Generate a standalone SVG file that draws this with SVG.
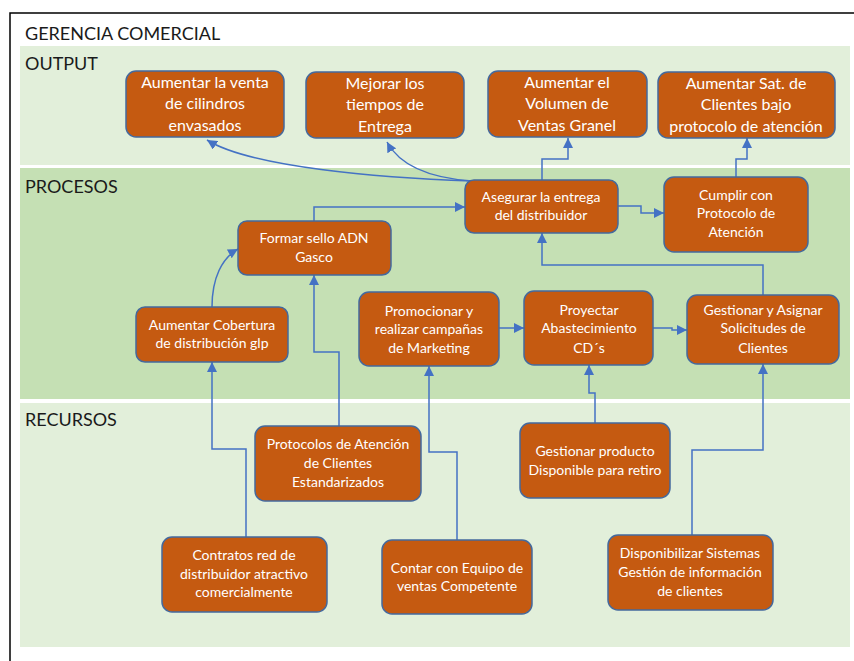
<svg xmlns="http://www.w3.org/2000/svg" width="854" height="661" viewBox="0 0 854 661">
  <defs>
    <marker id="arr" viewBox="0 0 10 10" refX="10" refY="5" markerWidth="10" markerHeight="10" markerUnits="userSpaceOnUse" orient="auto">
      <path d="M0,0 L10,5 L0,10 z" fill="#4472c4"/>
    </marker>
  </defs>
  <style>
    .band-light { fill: #e2efda; }
    .band-dark { fill: #c5e0b4; }
    .hdr { font-family: Lato, "Liberation Sans", sans-serif; font-size: 18px; fill: #1a1a1a; }
    .box { fill: #c55a11; stroke: #44699d; stroke-width: 1.5; }
    .lbl { font-family: Lato, "Liberation Sans", sans-serif; font-size: 14px; fill: #ffffff; text-anchor: middle; }
    .lbl-big { font-family: Lato, "Liberation Sans", sans-serif; font-size: 16px; fill: #ffffff; text-anchor: middle; }
    .con { fill: none; stroke: #4472c4; stroke-width: 1.5; }
    .arrow { marker-end: url(#arr); }
  </style>

  <!-- page background and frame -->
  <rect x="0" y="0" width="854" height="661" fill="#ffffff"/>
  <path d="M10,661 L10,13 L854,13" fill="none" stroke="#000000" stroke-width="1.5"/>

  <!-- swimlane bands -->
  <rect class="band-light" x="20" y="46" width="830" height="119"/>
  <rect class="band-dark" x="20" y="168" width="830" height="231"/>
  <rect class="band-light" x="20" y="403" width="830" height="244"/>

  <text class="hdr" x="25" y="40">GERENCIA COMERCIAL</text>
  <text class="hdr" x="25" y="70">OUTPUT</text>
  <text class="hdr" x="25" y="193">PROCESOS</text>
  <text class="hdr" x="25" y="426">RECURSOS</text>

  <!-- connectors -->
  <g id="connectors">
    <path class="con arrow" d="M246,537 L246,449 L212,449 L212,362"/>
    <path class="con arrow" d="M212,307 C212,278 222,258 238,249"/>
    <path class="con arrow" d="M339,426 L339,352 L314,352 L314,275"/>
    <path class="con arrow" d="M314,221 L314,207 L465,207"/>
    <path class="con arrow" d="M472,181 C380,178 250,167 207,140"/>
    <path class="con arrow" d="M472,181 C430,178 400,166 387,142"/>
    <path class="con arrow" d="M542,180 L542,159 L568,159 L568,138"/>
    <path class="con arrow" d="M736,177 L736,159 L747,159 L747,138"/>
    <path class="con arrow" d="M618,206 L641,206 L641,213 L664,213"/>
    <path class="con arrow" d="M763,295 L763,265 L542,265 L542,233"/>
    <path class="con arrow" d="M499,328 L524,328"/>
    <path class="con arrow" d="M653,328 L672,328 L672,330 L687,330"/>
    <path class="con arrow" d="M457,540 L457,452 L429,452 L429,366"/>
    <path class="con arrow" d="M595,423 L595,393 L589,393 L589,365"/>
    <path class="con arrow" d="M692,535 L692,450 L763,450 L763,364"/>
  </g>

  <!-- OUTPUT nodes -->
  <g id="out-venta-cilindros">
    <rect class="box" x="126" y="71" width="158" height="66" rx="10"/>
    <text class="lbl-big" x="205" y="88">Aumentar la venta</text>
    <text class="lbl-big" x="205" y="109">de cilindros</text>
    <text class="lbl-big" x="205" y="131">envasados</text>
  </g>
  <g id="out-tiempos-entrega">
    <rect class="box" x="306" y="72" width="158" height="66" rx="10"/>
    <text class="lbl-big" x="385" y="89">Mejorar los</text>
    <text class="lbl-big" x="385" y="110">tiempos de</text>
    <text class="lbl-big" x="385" y="132">Entrega</text>
  </g>
  <g id="out-volumen-granel">
    <rect class="box" x="488" y="71" width="159" height="66" rx="10"/>
    <text class="lbl-big" x="567" y="88">Aumentar el</text>
    <text class="lbl-big" x="567" y="109">Volumen de</text>
    <text class="lbl-big" x="567" y="131">Ventas Granel</text>
  </g>
  <g id="out-satisfaccion">
    <rect class="box" x="658" y="72" width="177" height="66" rx="10"/>
    <text class="lbl-big" x="746" y="89">Aumentar Sat. de</text>
    <text class="lbl-big" x="746" y="110">Clientes bajo</text>
    <text class="lbl-big" x="746" y="132">protocolo de atención</text>
  </g>

  <!-- PROCESOS nodes -->
  <g id="proc-asegurar-entrega">
    <rect class="box" x="465" y="180" width="153" height="53" rx="9"/>
    <text class="lbl" x="541" y="202">Asegurar la entrega</text>
    <text class="lbl" x="541" y="220">del distribuidor</text>
  </g>
  <g id="proc-cumplir-protocolo">
    <rect class="box" x="664" y="177" width="144" height="75" rx="10"/>
    <text class="lbl" x="736" y="200">Cumplir con</text>
    <text class="lbl" x="736" y="218">Protocolo de</text>
    <text class="lbl" x="736" y="237">Atención</text>
  </g>
  <g id="proc-sello-adn">
    <rect class="box" x="238" y="221" width="153" height="54" rx="9"/>
    <text class="lbl" x="314" y="243">Formar sello ADN</text>
    <text class="lbl" x="314" y="262">Gasco</text>
  </g>
  <g id="proc-cobertura">
    <rect class="box" x="136" y="307" width="152" height="55" rx="9"/>
    <text class="lbl" x="212" y="330">Aumentar Cobertura</text>
    <text class="lbl" x="212" y="348">de distribución glp</text>
  </g>
  <g id="proc-marketing">
    <rect class="box" x="359" y="292" width="140" height="74" rx="10"/>
    <text class="lbl" x="429" y="316">Promocionar y</text>
    <text class="lbl" x="429" y="334">realizar campañas</text>
    <text class="lbl" x="429" y="353">de Marketing</text>
  </g>
  <g id="proc-abastecimiento">
    <rect class="box" x="524" y="291" width="129" height="74" rx="10"/>
    <text class="lbl" x="589" y="315">Proyectar</text>
    <text class="lbl" x="589" y="333">Abastecimiento</text>
    <text class="lbl" x="589" y="353">CD´s</text>
  </g>
  <g id="proc-solicitudes">
    <rect class="box" x="687" y="295" width="152" height="69" rx="10"/>
    <text class="lbl" x="763" y="315">Gestionar y Asignar</text>
    <text class="lbl" x="763" y="333">Solicitudes de</text>
    <text class="lbl" x="763" y="353">Clientes</text>
  </g>

  <!-- RECURSOS nodes -->
  <g id="rec-protocolos">
    <rect class="box" x="255" y="426" width="166" height="75" rx="10"/>
    <text class="lbl" x="338" y="449">Protocolos de Atención</text>
    <text class="lbl" x="338" y="468">de Clientes</text>
    <text class="lbl" x="338" y="487">Estandarizados</text>
  </g>
  <g id="rec-producto-disponible">
    <rect class="box" x="520" y="423" width="150" height="75" rx="10"/>
    <text class="lbl" x="595" y="456">Gestionar producto</text>
    <text class="lbl" x="595" y="475">Disponible para retiro</text>
  </g>
  <g id="rec-contratos">
    <rect class="box" x="162" y="537" width="165" height="75" rx="10"/>
    <text class="lbl" x="244" y="560">Contratos red de</text>
    <text class="lbl" x="244" y="579">distribuidor atractivo</text>
    <text class="lbl" x="244" y="597">comercialmente</text>
  </g>
  <g id="rec-equipo-ventas">
    <rect class="box" x="382" y="540" width="150" height="74" rx="10"/>
    <text class="lbl" x="457" y="573">Contar con Equipo de</text>
    <text class="lbl" x="457" y="591">ventas Competente</text>
  </g>
  <g id="rec-sistemas">
    <rect class="box" x="608" y="535" width="165" height="75" rx="10"/>
    <text class="lbl" x="690" y="558">Disponibilizar Sistemas</text>
    <text class="lbl" x="690" y="577">Gestión de información</text>
    <text class="lbl" x="690" y="596">de clientes</text>
  </g>
</svg>
